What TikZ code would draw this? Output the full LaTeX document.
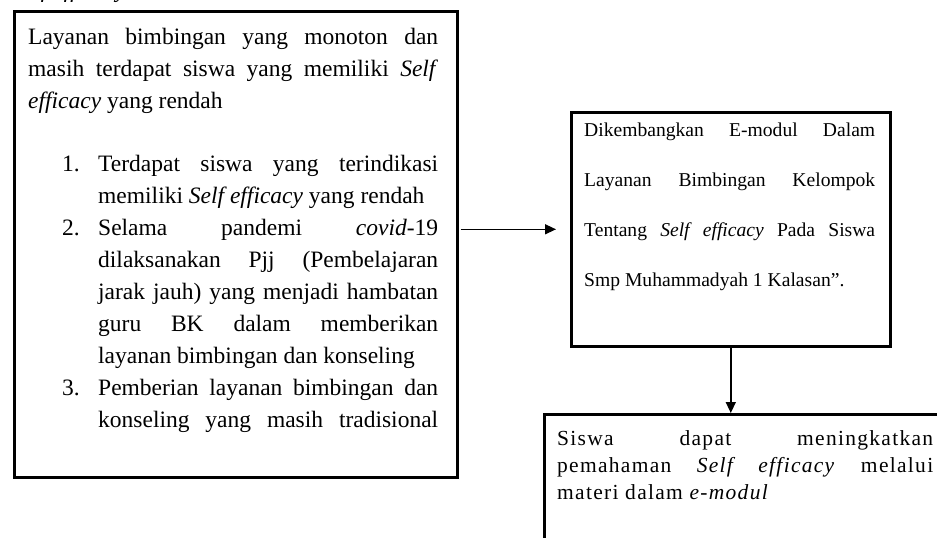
\documentclass[tikz,border=0pt]{standalone}
\usepackage{fontspec}
\setmainfont{Liberation Serif}
\newfontfamily\widefont[LetterSpace=6]{Liberation Serif}
\usetikzlibrary{arrows.meta}
\newcommand{\jline}[2]{\makebox[#1][s]{#2}}
\begin{document}
\begin{tikzpicture}[x=1pt,y=-1pt,
  box/.style={draw, line width=2.6pt, inner sep=0pt, anchor=north west},
  bigtxt/.style={anchor=base west, inner sep=0pt, font=\fontsize{23.5}{32}\selectfont},
  numtxt/.style={anchor=base east, inner sep=0pt, font=\fontsize{23.5}{32}\selectfont},
  midtxt/.style={anchor=base west, inner sep=0pt, font=\fontsize{19.6}{24}\selectfont},
  bottxt/.style={anchor=base west, inner sep=0pt, font=\widefont\fontsize{21.5}{26}\selectfont},
  arr/.style={line width=1.4pt, -{Triangle[length=11pt,width=10pt]}}]
\useasboundingbox (0,0) rectangle (937,538);
\clip (0,0) rectangle (937,538);

% cut-off caption at the very top
\node[bigtxt] (cap) at (12,-2) {\textit{Self efficacy}.};

% left box
\node[box, minimum width=443pt, minimum height=466pt] (left) at (13,10) {};
\node[bigtxt] (l1) at (28,44)  {\jline{410pt}{Layanan bimbingan yang monoton dan}};
\node[bigtxt] (l2) at (28,76)  {\jline{410pt}{masih terdapat siswa yang memiliki \textit{Self}}};
\node[bigtxt] (l3) at (28,108) {\textit{efficacy} yang rendah};

\node[numtxt] (n1) at (80,171) {1.};
\node[bigtxt] (a1) at (98,171) {\jline{340pt}{Terdapat siswa yang terindikasi}};
\node[bigtxt] (a2) at (98,203) {memiliki \textit{Self efficacy} yang rendah};
\node[numtxt] (n2) at (80,235) {2.};
\node[bigtxt] (b1) at (98,235) {\jline{340pt}{Selama pandemi \textit{covid}-19}};
\node[bigtxt] (b2) at (98,267) {\jline{340pt}{dilaksanakan Pjj (Pembelajaran}};
\node[bigtxt] (b3) at (98,299) {\jline{340pt}{jarak jauh) yang menjadi hambatan}};
\node[bigtxt] (b4) at (98,331) {\jline{340pt}{guru BK dalam memberikan}};
\node[bigtxt] (b5) at (98,363) {layanan bimbingan dan konseling};
\node[numtxt] (n3) at (80,395) {3.};
\node[bigtxt] (c1) at (98,395) {\jline{340pt}{Pemberian layanan bimbingan dan}};
\node[bigtxt] (c2) at (98,427) {\jline{340pt}{konseling yang masih tradisional}};

% middle box
\node[box, minimum width=319pt, minimum height=234pt] (mid) at (570,111) {};
\node[midtxt] (m1) at (584,136) {\jline{291pt}{Dikembangkan E-modul Dalam}};
\node[midtxt] (m2) at (584,186) {\jline{291pt}{Layanan Bimbingan Kelompok}};
\node[midtxt] (m3) at (584,236) {\jline{291pt}{Tentang \textit{Self efficacy} Pada Siswa}};
\node[midtxt] (m4) at (584,286) {Smp Muhammadyah 1 Kalasan”.};

% bottom box (runs off the picture)
\node[box, minimum width=500pt, minimum height=300pt] (bot) at (543,413) {};
\node[bottxt] (s1) at (557,445) {\jline{376pt}{Siswa dapat meningkatkan}};
\node[bottxt] (s2) at (557,472) {\jline{376pt}{pemahaman \textit{Self efficacy} melalui}};
\node[bottxt] (s3) at (557,499) {materi dalam \textit{e-modul}};

% connectors
\draw[arr] ([xshift=2pt]left.east |- mid.west) -- ([xshift=-14pt]mid.west);
\draw[arr] (mid.south) -- (mid.south |- bot.north);
\end{tikzpicture}
\end{document}
